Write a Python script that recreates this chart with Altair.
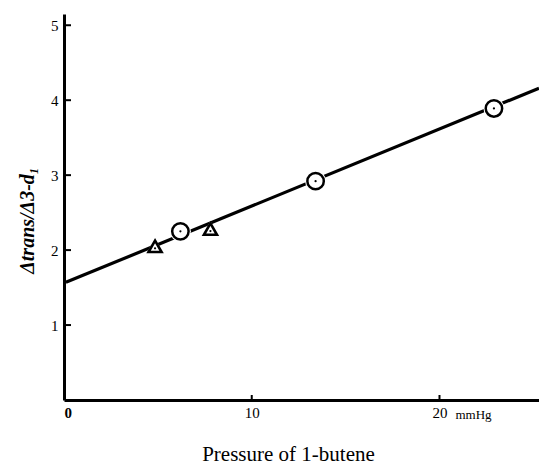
import altair as alt
import pandas as pd

# Data
circle_x = [6.2, 13.4, 22.9]
circle_y = [2.25, 2.92, 3.89]
tri_x = [4.85, 7.8]
tri_y = [2.05, 2.28]
fit_x = [0.1, 25.3]
fit_y = [1.57, 4.16]
x_ticks = [0, 10, 20]
y_ticks = [1, 2, 3, 4, 5]

W, H = 475, 386
FONT = "Liberation Serif"

circles = pd.DataFrame({"x": circle_x, "y": circle_y})
tris = pd.DataFrame({"x": tri_x, "y": tri_y})
fit = pd.DataFrame({"x": fit_x, "y": fit_y})
xt = pd.DataFrame({"x": x_ticks})
yt = pd.DataFrame({"y": y_ticks})

xscale = alt.Scale(domain=[0, 25.3], nice=False, zero=False)
yscale = alt.Scale(domain=[0, 5.15], nice=False, zero=False)

xaxis = alt.Axis(
    values=x_ticks, tickSize=0, grid=False, domainWidth=3, domainColor="black",
    labelFont=FONT, labelFontSize=15, labelColor="black", labelPadding=5,
    labelFontWeight={"condition": {"test": "datum.value == 0", "value": "bold"}, "value": "normal"},
    title="Pressure of 1-butene", titleFont=FONT, titleFontSize=21,
    titleFontWeight="normal", titleColor="black", titleX=224, titleY=60,
    titleAlign="center", titleBaseline="alphabetic",
)
yaxis = alt.Axis(
    values=y_ticks, tickSize=0, grid=False, domainWidth=3, domainColor="black",
    labelFont=FONT, labelFontSize=15, labelColor="black", labelPadding=6,
    title="Δtrans/Δ3-d₁", titleFont=FONT, titleFontSize=20, titleFontStyle="italic",
    titleFontWeight="bold", titleColor="black", titleX=-37, titleY=206,
    titleAlign="center", titleBaseline="middle",
)

X = lambda: alt.X("x:Q", scale=xscale, axis=xaxis)
Y = lambda: alt.Y("y:Q", scale=yscale, axis=yaxis)

line = alt.Chart(fit).mark_line(color="black", strokeWidth=3.2).encode(x=X(), y=Y())

halo_c = alt.Chart(circles).mark_point(shape="circle", size=440, filled=True, color="white", opacity=1).encode(x=X(), y=Y())
circ = alt.Chart(circles).mark_point(shape="circle", size=270, fill="white", stroke="black", strokeWidth=2.5, opacity=1).encode(x=X(), y=Y())
dot_c = alt.Chart(circles).mark_point(shape="circle", size=5, filled=True, color="black", opacity=1).encode(x=X(), y=Y())

halo_t = alt.Chart(tris).mark_point(shape="triangle-up", size=320, filled=True, color="white", opacity=1).encode(x=X(), y=Y())
tri = alt.Chart(tris).mark_point(shape="triangle-up", size=170, fill="white", stroke="black", strokeWidth=2.6, opacity=1).encode(x=X(), y=Y())
dot_t = alt.Chart(tris).mark_point(shape="circle", size=5, filled=True, color="black", opacity=1, yOffset=2).encode(x=X(), y=Y())

yticks = alt.Chart(yt).mark_rule(color="black", strokeWidth=2).encode(
    x=alt.value(0), x2=alt.value(7), y=Y())
xticks = alt.Chart(xt[xt.x > 0]).mark_rule(color="black", strokeWidth=2).encode(
    x=X(), y=alt.value(H), y2=alt.value(H - 5))

unit = alt.Chart(pd.DataFrame({"t": ["mmHg"]})).mark_text(
    font=FONT, fontSize=13, color="black", align="left", baseline="middle", dx=16
).encode(x=alt.datum(20, scale=xscale), y=alt.value(H + 15), text="t:N")

chart = alt.layer(line, halo_c, halo_t, circ, tri, dot_c, dot_t, yticks, xticks, unit).properties(
    width=W, height=H,
    autosize=alt.AutoSizeParams(type="none"),
    padding={"left": 64, "top": 14, "right": 0, "bottom": 65},
    background="white",
).configure_view(stroke=None)

chart.save("out.html", embed_options={"renderer": "svg", "actions": False})
